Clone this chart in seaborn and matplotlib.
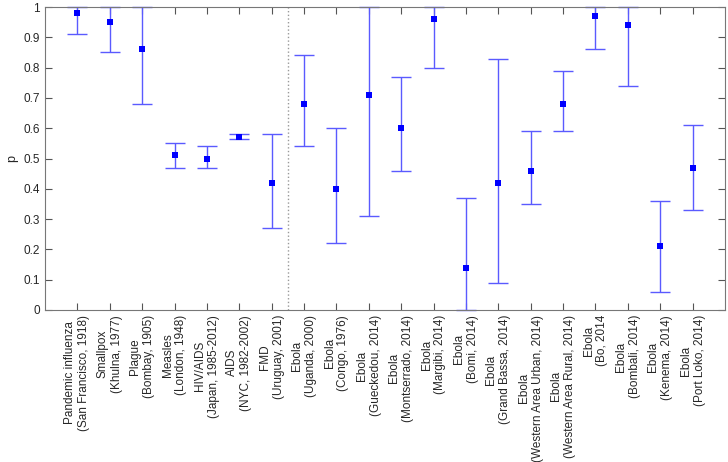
import matplotlib
matplotlib.use("Agg")
import matplotlib.pyplot as plt
import seaborn as sns
import numpy as np
import pandas as pd

labels = [
    "Pandemic influenza\n(San Francisco, 1918)",
    "Smallpox\n(Khulna, 1977)",
    "Plague\n(Bombay, 1905)",
    "Measles\n(London, 1948)",
    "HIV/AIDS\n(Japan, 1985-2012)",
    "AIDS\n(NYC, 1982-2002)",
    "FMD\n(Uruguay, 2001)",
    "Ebola\n(Uganda, 2000)",
    "Ebola\n(Congo, 1976)",
    "Ebola\n(Gueckedou, 2014)",
    "Ebola\n(Montserrado, 2014)",
    "Ebola\n(Margibi, 2014)",
    "Ebola\n(Bomi, 2014)",
    "Ebola\n(Grand Bassa, 2014)",
    "Ebola\n(Western Area Urban, 2014)",
    "Ebola\n(Western Area Rural, 2014)",
    "Ebola\n(Bo, 2014",
    "Ebola\n(Bombali, 2014)",
    "Ebola\n(Kenema, 2014)",
    "Ebola\n(Port Loko, 2014)",
]
p = [0.98, 0.95, 0.86, 0.51, 0.50, 0.57, 0.42, 0.68, 0.40, 0.71,
     0.60, 0.96, 0.14, 0.42, 0.46, 0.68, 0.97, 0.94, 0.21, 0.47]
lower = [0.91, 0.85, 0.68, 0.47, 0.47, 0.565, 0.27, 0.54, 0.22, 0.31,
         0.46, 0.80, 0.00, 0.09, 0.35, 0.59, 0.86, 0.74, 0.06, 0.33]
upper = [1.00, 1.00, 1.00, 0.55, 0.54, 0.58, 0.58, 0.84, 0.60, 1.00,
         0.77, 1.00, 0.37, 0.83, 0.59, 0.79, 1.00, 1.00, 0.36, 0.61]

sns.set_style("ticks")
plt.rcParams['font.family'] = ['Liberation Sans', 'DejaVu Sans']

df = pd.DataFrame({"x": np.arange(1, len(p) + 1), "p": p, "lo": lower, "hi": upper})

fig = plt.figure(figsize=(7.28, 4.62), dpi=100)
ax = fig.add_axes([45/728, 1 - 310/462, (725-45)/728, (310-7)/462])

ax.errorbar(df["x"], df["p"], yerr=[df["p"] - df["lo"], df["hi"] - df["p"]],
            fmt="none", ecolor="#5a5aff", elinewidth=1.0, capsize=7, capthick=1.0,
            clip_on=False, zorder=2)
sns.scatterplot(data=df, x="x", y="p", ax=ax, marker="s", s=18, color="#0000ff",
                edgecolor="#0000ff", linewidth=0, zorder=3, clip_on=False)
ax.axvline(7.5, color="#999999", linestyle=":", linewidth=1.0)

ax.set_xlim(0, 21)
ax.set_ylim(0, 1)
ax.set_xticks(df["x"])
ax.set_xticklabels(labels, rotation=90, fontsize=8.5, multialignment="center")
ax.set_yticks(np.arange(0, 1.01, 0.1))
ax.set_yticklabels(["0", "0.1", "0.2", "0.3", "0.4", "0.5", "0.6", "0.7", "0.8", "0.9", "1"], fontsize=8.5)
ax.set_xlabel("")
ax.set_ylabel("p", fontsize=9)
ax.tick_params(direction="in", top=True, right=True, length=5, color="#555555", width=0.8)
for s in ax.spines.values():
    s.set_color("#777777")
    s.set_linewidth(0.8)

fig.savefig("out.png", dpi=100)
